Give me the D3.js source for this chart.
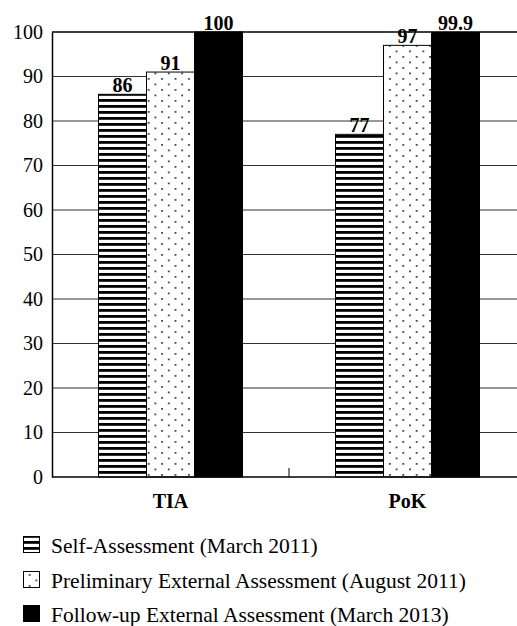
<!DOCTYPE html>
<html>
<head>
<meta charset="utf-8">
<script src="https://cdn.jsdelivr.net/npm/d3@7"></script>
<style>
  html, body { margin: 0; padding: 0; background: #fff; }
  svg { display: block; }
  svg text { font-family: "Liberation Serif", "Times New Roman", serif !important; fill: #000; }
</style>
</head>
<body>
<div id="chart"></div>
<script>
// Assessment scores per category
const categories = ["TIA", "PoK"];
const seriesNames = [
  "Self-Assessment (March 2011)",
  "Preliminary External Assessment (August 2011)",
  "Follow-up External Assessment (March 2013)"
];
const selfAssessment = [86, 77];
const preliminaryExternal = [91, 97];
const followUpExternal = [100, 99.9];
const valueLabels = [["86", "77"], ["91", "97"], ["100", "99.9"]];
const yTicks = [0, 10, 20, 30, 40, 50, 60, 70, 80, 90, 100];

const seriesValues = [selfAssessment, preliminaryExternal, followUpExternal];
const fills = ["url(#stripes)", "url(#dots)", "#000"];

const W = 517, H = 626;
const margin = { left: 52, top: 32 };
const plotW = 474, plotH = 445;

const svg = d3.select("#chart").append("svg").attr("width", W).attr("height", H);

// Fill patterns
const defs = svg.append("defs");
const stripes = defs.append("pattern").attr("id", "stripes")
  .attr("patternUnits", "userSpaceOnUse").attr("width", 8).attr("height", 6);
stripes.append("rect").attr("width", 8).attr("height", 6).attr("fill", "#fff");
stripes.append("rect").attr("y", 1).attr("width", 8).attr("height", 2.8).attr("fill", "#000");

const dots = defs.append("pattern").attr("id", "dots")
  .attr("patternUnits", "userSpaceOnUse").attr("width", 13.4).attr("height", 11);
dots.append("rect").attr("width", 13.4).attr("height", 11).attr("fill", "#fff");
dots.append("rect").attr("x", 2).attr("y", 2).attr("width", 1.8).attr("height", 1.8).attr("fill", "#444");
dots.append("rect").attr("x", 8.7).attr("y", 7.5).attr("width", 1.8).attr("height", 1.8).attr("fill", "#444");

const g = svg.append("g").attr("transform", `translate(${margin.left},${margin.top})`);

const x0 = d3.scaleBand().domain(categories).range([0, plotW]).paddingInner(0).paddingOuter(0);
const x1 = d3.scaleBand().domain(d3.range(seriesNames.length)).range([0, 144]);
const y = d3.scaleLinear().domain([0, 100]).range([plotH, 0]);

// Gridlines
g.append("g").selectAll("line").data(yTicks.filter(t => t > 0)).join("line")
  .attr("x1", 0).attr("x2", W - margin.left)
  .attr("y1", d => y(d)).attr("y2", d => y(d))
  .attr("stroke", d => d === 100 ? "#000" : "#333")
  .attr("stroke-width", d => d === 100 ? 1.3 : 1);

// Y axis
const yAxis = g.append("g").call(d3.axisLeft(y).tickValues(yTicks).tickSize(0).tickPadding(9));
yAxis.select(".domain").attr("stroke", "#000").attr("stroke-width", 1.5);
yAxis.selectAll("text").style("font-size", "20px");

// Bars
categories.forEach((cat, ci) => {
  const gx = x0(cat) + (x0.bandwidth() - 144) / 2;
  seriesValues.forEach((vals, si) => {
    g.append("rect")
      .attr("x", gx + x1(si)).attr("y", y(vals[ci]))
      .attr("width", x1.bandwidth()).attr("height", y(0) - y(vals[ci]))
      .attr("fill", fills[si]).attr("stroke", "#000").attr("stroke-width", 1);
    g.append("text")
      .attr("x", gx + x1(si) + x1.bandwidth() / 2).attr("y", y(vals[ci]) - 2.5)
      .attr("text-anchor", "middle").style("font-weight", "bold").style("font-size", "20px")
      .text(valueLabels[si][ci]);
  });
});

// X axis baseline, divider tick and category labels
g.append("line").attr("x1", 0).attr("x2", W - margin.left)
  .attr("y1", y(0)).attr("y2", y(0)).attr("stroke", "#000").attr("stroke-width", 1.5);
g.append("line").attr("x1", x0.bandwidth()).attr("x2", x0.bandwidth())
  .attr("y1", y(0)).attr("y2", y(0) - 9).attr("stroke", "#000").attr("stroke-width", 1);
g.selectAll(".cat").data(categories).join("text").attr("class", "cat")
  .attr("x", d => x0(d) + x0.bandwidth() / 2).attr("y", y(0) + 31)
  .attr("text-anchor", "middle").style("font-weight", "bold").style("font-size", "20px")
  .text(d => d);

// Legend
const legendBase = [553, 588, 622];
seriesNames.forEach((name, i) => {
  svg.append("rect").attr("x", 23.5).attr("y", legendBase[i] - 16.5)
    .attr("width", 16).attr("height", 16)
    .attr("fill", fills[i]).attr("stroke", "#000").attr("stroke-width", 1);
  svg.append("text").attr("x", 51).attr("y", legendBase[i])
    .style("font-size", "21.5px").text(name);
});
</script>
</body>
</html>
